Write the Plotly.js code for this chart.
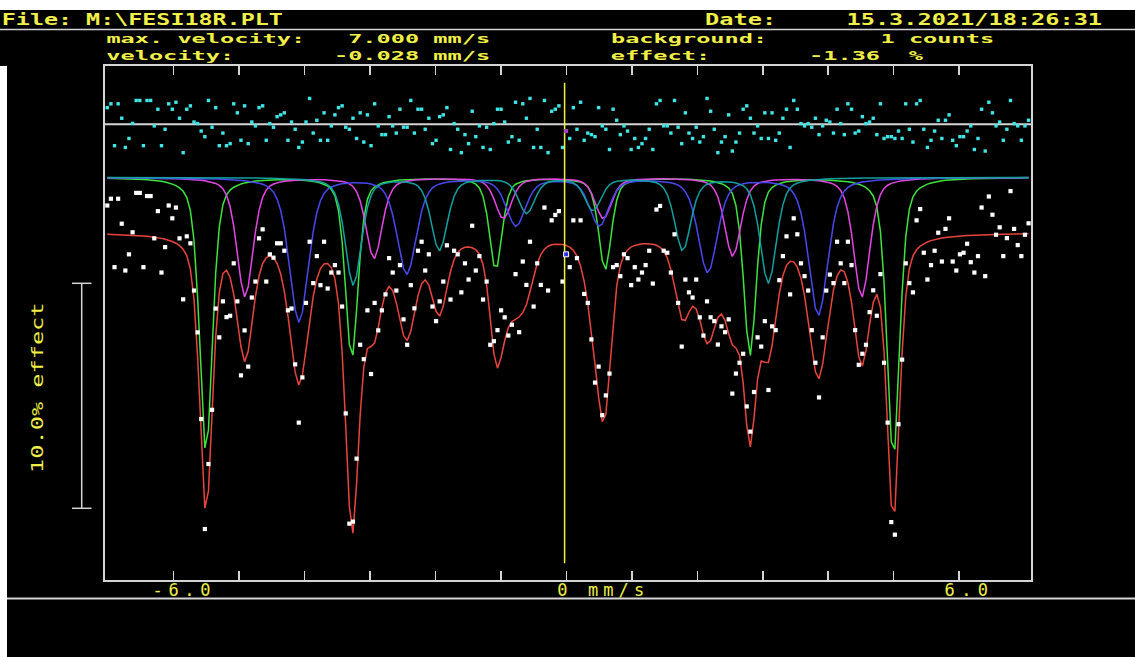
<!DOCTYPE html>
<html><head><meta charset="utf-8">
<script src="https://cdn.plot.ly/plotly-3.0.1.min.js"></script>
<style>html,body{margin:0;padding:0;background:#ffffff;}#chart{width:1135px;height:657px;}</style>
</head><body><div id="chart"></div>
<script>
// ================= DATA =================
// channel velocity calibration (mm/s)
const channelVelStart = -7.015;
const channelVelStep = 0.0552;

// measured spectrum, effect in % (one value per channel, 256 channels)
const effect = [
 1.20, 1.50,-1.54, 1.50, 0.39,-1.69,-0.97, 0.01, 1.76, 1.76,
-1.54, 1.62, 1.62,-0.26, 0.95,-1.78,-0.65, 1.20, 0.63, 1.11,
-0.26,-2.97,-0.17,-0.48,-2.58,-4.44,-8.29,-13.18,-10.29,-7.88,
-3.38,-4.66,-3.06,-3.76,-3.70,-1.37,-3.06,-6.35,-4.35,-5.96,
-2.89,-2.18,-0.26, 0.14,-2.18,-0.97,-1.12,-0.48,-0.48,-0.81,
-3.46,-3.38,-5.86,-8.45,-6.44,-3.13,-0.41,-2.25,-1.05,-2.34,
-0.41,-2.49,-1.78,-1.45,-1.78,-3.29,-8.04,-12.94,-12.85,-10.05,
-4.99,-5.63,-3.46,-6.29,-3.13,-4.35,-3.46,-2.75,-1.14,-1.78,
-2.58,-1.45,-3.86,-4.99,-2.34,-3.37,-0.81,-0.41,-1.69,-0.97,
-3.29,-3.94,-3.06,-2.18,-0.57,-2.98,-0.81,-0.97,-2.66,-1.37,
-2.09, 0.30,-1.69,-1.05,-2.98,-2.18,-4.99,-4.83,-4.34,-3.46,
-3.77,-4.58,-4.10,-1.85,-4.43,-1.29,-2.33,-0.41,-3.29,-1.37,
-2.33, 1.11,-2.58, 0.54, 0.78, 0.95,-2.18,-0.97,-1.54, 0.54,
-1.14, 0.54,-2.73,-3.13,-4.75,-6.67,-5.96,-8.12,-7.24,-6.27,
-1.54,-1.45,-1.94,-0.97,-1.14,-2.34,-1.54,-2.09,-1.78,-1.45,
-0.81,-2.27, 1.02, 1.18,-0.81,-0.90,-1.78,-0.08,-3.13,-5.07,
-2.09,-2.66,-2.89,-2.09,-3.77,-4.58,-3.06,-3.77,-3.94,-4.98,
-4.17,-4.43,-3.86,-7.16,-6.27,-5.79,-5.39,-7.73,-8.85,-7.09,
-4.66,-5.07,-3.94,-7.00,-4.17,-4.34,-2.12,-1.05,-0.17,-2.75,
 0.63,-0.08,-1.37,-1.94,-2.58,-4.34,-5.79,-7.33,-4.66,-2.58,
-1.87,-2.25,-0.41,-1.37,-2.25,-0.41,-1.45,-4.34,-5.88,-5.39,
-4.99,-3.54,-2.57,-3.70,-1.85,-5.79,-8.45,-12.87,-13.43,-8.52,
-5.65,-1.37,-2.25,-2.66, 0.54, 1.04,-0.90,-2.09,-1.45,-0.81,
-0.01,-1.29, 0.16, 0.63,-1.29,-1.69,-0.97,-0.90,-0.50,-1.32,
-1.78,-1.05, 1.11,-1.94, 1.60, 0.79,-0.10, 0.23,-1.05,-0.25,
 1.84, 0.16,-0.56,-1.05,-0.10, 0.41
];

// residuals (data - fit), % (one value per channel)
const residual = [
 0.74, 0.91,-0.95, 0.91, 0.27,-1.03,-0.63, 0.04, 1.06, 1.06,
-0.95, 1.06, 1.06,-0.07, 0.67,-0.95,-0.22, 0.91, 0.67, 0.98,
 0.27,-1.26, 0.67, 0.82, 0.10, 0.03,-0.30,-0.55, 1.06,-0.13,
 0.74,-0.95,-0.39,-0.95,-0.86, 0.91, 0.51,-0.71, 0.82,-0.86,
 0.10,-0.07, 0.74, 0.82,-0.71, 0.03,-0.13, 0.34, 0.42, 0.51,
-0.71, 0.10,-0.22,-1.03,-0.79, 0.10, 1.15,-0.39, 0.18,-0.71,
 0.51,-0.71,-0.07, 0.42, 0.74, 0.82,-0.13,-0.22, 0.27,-0.63,
 0.51,-0.79, 0.42,-0.95, 0.91,-0.07,-0.46,-0.46, 0.34,-0.07,
-0.39, 0.67,-0.13,-0.13, 1.06,-0.39, 0.67, 0.67,-0.22, 0.27,
-0.86,-0.71, 0.34, 0.42, 0.74,-1.12, 0.03,-0.22,-1.26,-0.46,
-0.86, 0.58,-0.55,-0.07,-1.03,-0.13,-1.12, 0.03, 0.67, 0.67,
 0.10,-0.79,-0.55, 0.98,-0.71, 0.91, 0.27, 1.15,-1.03,-0.22,
-1.03, 1.06,-1.26, 0.58, 0.67, 0.82,-1.03,-0.30,
-0.63, 0.74,-0.22, 0.98,-0.71,-0.39,-0.46,-0.55, 0.74,-0.07,
-0.22,-1.12, 0.67, 0.18,-0.46,-0.07,-0.30,-1.12,-0.63,-1.03,
-0.86,-0.63,-0.22,-1.12, 0.91, 1.06,-0.07,-0.07,-0.39, 1.06,
-0.13,-0.86, 0.51,-0.39,-0.63,-0.13,-0.79,-0.55, 1.15, 0.58,
-0.22,-1.26,-0.79,-0.55, 0.42,-1.19,-0.79,-0.39, 0.67, 0.82,
 0.27,-0.39,-0.07,-0.63, 0.51,-0.63, 0.51,-0.71,-0.39, 0.27,
 0.67,-1.03, 1.06, 0.67, 0.03,-0.07, 0.03,-0.13, 0.27,-0.46,
-0.07, 0.18, 0.10,-0.39, 0.67, 0.03,-0.46, 0.91, 0.67,-0.39,
-0.30, 0.34, 0.03, 0.10, 0.27,-0.46, 0.91,-0.63,-0.55,-0.55,
-0.63,-0.30,-0.63, 0.91,-0.22,-0.79, 0.91, 1.06,-0.22,-1.03,
-0.71,-0.30, 0.18,-0.63, 0.18, 0.42,-0.71,-0.95,-0.55,-0.55,
-0.30,-0.07,-1.12,-0.63, 0.67,-1.19, 0.98, 0.51,-0.07, 0.10,
-0.71,-0.22, 1.06, 0.03,-0.07,-0.71,-0.07, 0.18
];

// fitted sub-spectra (sextets): line positions (mm/s), line depths (%), line widths FWHM (mm/s)
const sextetA_pos   = [-5.507,-3.280,-1.080, 0.590, 2.805, 4.995];
const sextetA_depth = [12.25, 8.05, 4.10, 4.10, 7.90, 12.50];
const sextetB_pos   = [-4.911,-2.940,-0.964, 0.565, 2.541, 4.512];
const sextetB_depth = [5.31, 3.60, 1.82, 1.82, 3.50, 5.33];
const sextetC_pos   = [-4.086,-2.440,-0.770, 0.503, 2.159, 3.849];
const sextetC_depth = [6.42, 4.27, 2.12, 2.12, 4.20, 6.12];
const sextetD_pos   = [-3.256,-1.942,-0.607, 0.406, 1.777, 3.085];
const sextetD_depth = [4.79, 3.23, 1.57, 1.45, 3.23, 4.70];
const sextetFwhm    = [0.23, 0.295, 0.35, 0.295];

// cursor and header values
const cursorChannel = 127;
const cursorVelocity = -0.028;
const fileName = 'M:\\FESI18R.PLT';
const dateStamp = '15.3.2021/18:26:31';
const maxVelocity = '7.000';
const cursorVelocityText = '-0.028';
const backgroundCounts = '1';
const effectPercent = '-1.36';
const xTickVals = [-6,-5,-4,-3,-2,-1,0,1,2,3,4,5,6];
const xLabelVals = [-6, 0, 6];
const xLabelTexts = ['-6.0', '0 mm/s', '6.0'];
const scaleBarPercent = 10.0;
const scaleLabel = '10.0% effect';

// ================= BUILD =================
const W = 1135, H = 657, ML = 105, MR = 104, MT = 66, MB = 77;
const PW = W - ML - MR, PH = H - MT - MB;
const pxX = x => (x - ML) / PW;          // page pixel -> paper x
const pxY = y => (H - MB - y) / PH;      // page pixel -> paper y
const PX_PER_MMS = 65.45, PX_PER_PCT = 22.5;
const X0 = -7.05;
const xRange = [X0, X0 + PW / PX_PER_MMS];
const ZERO_PX = 232.5;
const yRange = [-(H - MB - ZERO_PX) / PX_PER_PCT, (ZERO_PX - MT) / PX_PER_PCT];
const SUB_OFFSET = (ZERO_PX - 177.3) / PX_PER_PCT;
const RES_OFFSET = (ZERO_PX - 124.3) / PX_PER_PCT;

const vel = effect.map((_, i) => channelVelStart + channelVelStep * i);
function pv(v, c, d, fwhm) {
  const x = (v - c) / (fwhm / 2);
  return d * (0.5 / (1 + x * x) + 0.5 * Math.exp(-Math.LN2 * x * x));
}
const sextets = [
  {pos: sextetA_pos, depth: sextetA_depth, fwhm: sextetFwhm[0], color: '#3ee43e'},
  {pos: sextetB_pos, depth: sextetB_depth, fwhm: sextetFwhm[1], color: '#e446e4'},
  {pos: sextetC_pos, depth: sextetC_depth, fwhm: sextetFwhm[2], color: '#4848f0'},
  {pos: sextetD_pos, depth: sextetD_depth, fwhm: sextetFwhm[3], color: '#12a0a0'}
];
const comps = sextets.map(s => vel.map(v => s.pos.reduce((a, c, k) => a + pv(v, c, s.depth[k], s.fwhm), 0)));
const fit = vel.map((_, i) => -comps.reduce((a, c) => a + c[i], 0));

const traces = [];
traces.push({x: vel, y: residual.map(r => RES_OFFSET + r), mode: 'markers', type: 'scatter',
  marker: {symbol: 'square', size: 3.4, color: '#3ee6e6'}, hoverinfo: 'skip'});
sextets.forEach((s, k) => traces.push({x: vel, y: comps[k].map(c => SUB_OFFSET - c), mode: 'lines', type: 'scatter',
  line: {color: s.color, width: 1.5}, hoverinfo: 'skip'}));
traces.push({x: vel, y: fit, mode: 'lines', type: 'scatter', line: {color: '#e8453c', width: 1.5}, hoverinfo: 'skip'});
traces.push({x: vel, y: effect, mode: 'markers', type: 'scatter',
  marker: {symbol: 'square', size: 4.2, color: '#ffffff'}, hoverinfo: 'skip'});
traces.push({x: [cursorVelocity, cursorVelocity], y: [(ZERO_PX - 82.7) / PX_PER_PCT, (ZERO_PX - 563.3) / PX_PER_PCT],
  mode: 'lines', type: 'scatter', line: {color: '#f2f23c', width: 1.5}, hoverinfo: 'skip'});
traces.push({x: [vel[cursorChannel]], y: [effect[cursorChannel]], mode: 'markers', type: 'scatter',
  marker: {symbol: 'square', size: 5, color: '#3030e0', line: {color: '#ffffff', width: 1}}, hoverinfo: 'skip'});
traces.push({x: [vel[cursorChannel]], y: [RES_OFFSET + residual[cursorChannel]], mode: 'markers', type: 'scatter',
  marker: {symbol: 'square', size: 4, color: '#a040c0'}, hoverinfo: 'skip'});

// ---- texts ----
const PITCH = 14.2;
const anns = [];
const specs = [];
function addHeader(text, left, yc, size, pitch) {
  const n = text.length;
  const p = pitch || PITCH;
  anns.push({text: text, xref: 'paper', yref: 'paper', x: pxX(left + n * p / 2), y: pxY(yc),
    xanchor: 'center', yanchor: 'middle', showarrow: false,
    font: {family: 'DejaVu Sans Mono', size: size, color: '#f0f048', weight: 'bold'}});
  specs.push({len: n * p, adj: 'spacingAndGlyphs'});
}
const R1 = 19.5, R2 = 39.0, R3 = 55.0;
const HS = 13;
addHeader('File: ' + fileName, 1.5, R1, 15, 14.05);
addHeader('Date:', 705, R1, 15);
addHeader(dateStamp, 847, R1, 15);
addHeader('max. velocity:', 106.5, R2, HS);
addHeader(maxVelocity + ' mm/s', 106.5 + 17 * PITCH, R2, HS);
addHeader('velocity:', 106.5, R3, HS);
addHeader(cursorVelocityText + ' mm/s', 106.5 + 16 * PITCH, R3, HS);
addHeader('background:', 610.5, R2, HS);
addHeader(backgroundCounts + ' counts', 610.5 + 19 * PITCH, R2, HS);
addHeader('effect:', 610.5, R3, HS);
addHeader(effectPercent, 610.5 + 14 * PITCH, R3, HS);
addHeader('%', 610.5 + 21 * PITCH, R3, HS);

// vertical scale label
anns.push({text: scaleLabel, xref: 'paper', yref: 'paper', x: pxX(36.5), y: pxY(388), textangle: -90,
  xanchor: 'center', yanchor: 'middle', showarrow: false,
  font: {family: 'DejaVu Sans Mono', size: 16, color: '#f0f048'}});
specs.push({len: 12 * PITCH, adj: 'spacingAndGlyphs'});

// x tick labels
const labelShift = [7.3, 34.1, 7.0];
xLabelVals.forEach((v, k) => {
  anns.push({text: xLabelTexts[k], xref: 'x', yref: 'paper', x: v, xshift: labelShift[k], y: pxY(589.5),
    xanchor: 'center', yanchor: 'middle', showarrow: false,
    font: {family: 'DejaVu Sans Mono', size: 17, color: '#f0f048'}});
  specs.push({len: xLabelTexts[k].length * 14.5, adj: 'spacing'});
});

// ---- shapes ----
const grey = '#d4d4d4';
const shapes = [
  {type: 'rect', xref: 'paper', yref: 'paper', x0: pxX(-5), x1: pxX(W + 5), y0: pxY(10), y1: pxY(-5),
    fillcolor: '#ffffff', line: {width: 0}, layer: 'above'},
  {type: 'rect', xref: 'paper', yref: 'paper', x0: pxX(-5), x1: pxX(7), y0: pxY(H + 5), y1: pxY(66),
    fillcolor: '#ffffff', line: {width: 0}, layer: 'above'},
  {type: 'line', xref: 'paper', yref: 'paper', x0: pxX(0), x1: pxX(W), y0: pxY(29.5), y1: pxY(29.5),
    line: {color: grey, width: 1.5}},
  {type: 'line', xref: 'paper', yref: 'paper', x0: pxX(7), x1: pxX(W), y0: pxY(598.5), y1: pxY(598.5),
    line: {color: grey, width: 2}},
  {type: 'line', xref: 'paper', yref: 'y', x0: 0, x1: 1, y0: RES_OFFSET, y1: RES_OFFSET,
    line: {color: grey, width: 2}, layer: 'below'},
];
const sbTop = (ZERO_PX - 283.3) / PX_PER_PCT;
const sbBot = sbTop - scaleBarPercent;
const sbX = pxX(81.7), sbX0 = pxX(72), sbX1 = pxX(91.5);
shapes.push({type: 'line', xref: 'paper', yref: 'y', x0: sbX, x1: sbX, y0: sbTop, y1: sbBot, line: {color: grey, width: 1.5}});
shapes.push({type: 'line', xref: 'paper', yref: 'y', x0: sbX0, x1: sbX1, y0: sbTop, y1: sbTop, line: {color: grey, width: 1.5}});
shapes.push({type: 'line', xref: 'paper', yref: 'y', x0: sbX0, x1: sbX1, y0: sbBot, y1: sbBot, line: {color: grey, width: 1.5}});

const layout = {
  width: W, height: H,
  margin: {l: ML, r: MR, t: MT, b: MB, pad: 0},
  paper_bgcolor: '#000000', plot_bgcolor: '#000000',
  showlegend: false, hovermode: false,
  xaxis: {range: xRange, showgrid: false, zeroline: false, showline: true, linecolor: grey, linewidth: 2,
    mirror: 'allticks', ticks: 'inside', ticklen: 9, tickwidth: 1.5, tickcolor: grey,
    tickmode: 'array', tickvals: xTickVals, showticklabels: false, fixedrange: true},
  yaxis: {range: yRange, showgrid: false, zeroline: false, showline: true, linecolor: grey, linewidth: 2,
    mirror: true, ticks: '', showticklabels: false, fixedrange: true},
  annotations: anns,
  shapes: shapes
};

const gd = document.getElementById('chart');
Plotly.newPlot(gd, traces, layout, {staticPlot: true, displayModeBar: false}).then(() => {
  gd.querySelectorAll('g.annotation').forEach(g => {
    const idx = +g.getAttribute('data-index');
    const sp = specs[idx];
    const t = g.querySelector('text.annotation-text');
    if (t && sp) {
      t.setAttribute('textLength', sp.len);
      t.setAttribute('lengthAdjust', sp.adj);
    }
  });
});
</script>
</body></html>
